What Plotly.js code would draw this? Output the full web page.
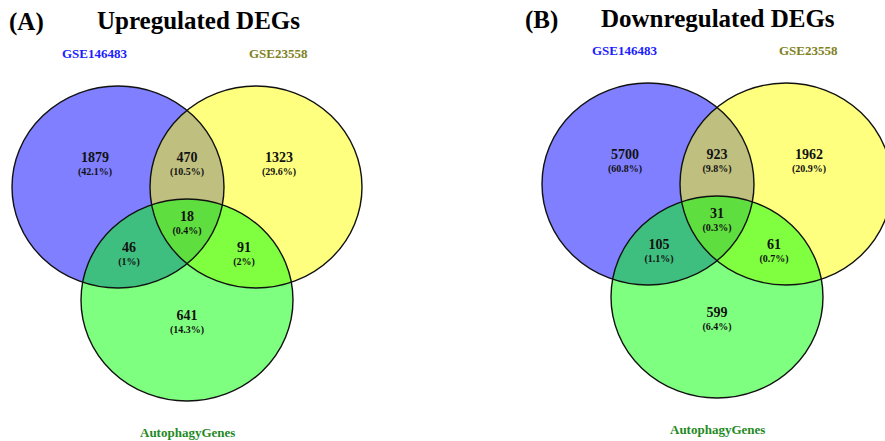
<!DOCTYPE html>
<html>
<head>
<meta charset="utf-8">
<script src="https://cdn.plot.ly/plotly-3.0.1.min.js"></script>
<style>
  html, body { margin: 0; padding: 0; background: #ffffff; }
  #chart { width: 885px; height: 441px; }
</style>
</head>
<body>
<div id="chart"></div>
<script>
// Set names and region counts (order: A only, A∩B, B only, A∩B∩C, A∩C, B∩C, C only)
const setNames = ["GSE146483", "GSE23558", "AutophagyGenes"];
const regionKeys = ["A", "AB", "B", "ABC", "AC", "BC", "C"];
const upCounts = [1879, 470, 1323, 18, 46, 91, 641];
const downCounts = [5700, 923, 1962, 31, 105, 61, 599];
const panelTags = ["(A)", "(B)"];
const panelTitles = ["Upregulated DEGs", "Downregulated DEGs"];

// Layout of one Venn panel, relative to the panel's centre point
const circleCenters = [[-69, -38], [69, -38], [0, 75]];
const RX = 106, RY = 101;
const regionPos = {A: [-92, -59], AB: [0, -59], B: [92, -59], ABC: [0, 0],
                   AC: [-58, 31], BC: [57, 31], C: [0, 99]};
const setLabelPos = [[-92, -172], [91, -172], [0, 207]];
const fills = ["rgba(0,0,255,0.5)", "rgba(255,255,0,0.5)", "rgba(0,255,0,0.5)"];
const labelColors = ["#1c1cff", "#80801c", "#1f8a1f"];
const panelOrigins = [[187, 225], [717, 222]];
const tagPos = [[26, 22], [541, 20]];
const titlePos = [[198, 20], [718, 18]];

const FONT = "Liberation Serif, Times New Roman, serif";

function pct(v, total) {
  return "(" + String(Math.round(v * 1000 / total) / 10) + "%)";
}

const traces = [];
const shapes = [];
const annotations = [];

[upCounts, downCounts].forEach((counts, p) => {
  const [ox, oy] = panelOrigins[p];
  const total = counts.reduce((a, b) => a + b, 0);

  // filled circles first, then the outlines on top
  circleCenters.forEach(([cx, cy], i) => {
    shapes.push({type: "circle", xref: "x", yref: "y", layer: "below",
      x0: ox + cx - RX, x1: ox + cx + RX, y0: oy + cy - RY, y1: oy + cy + RY,
      fillcolor: fills[i], line: {width: 0}});
  });
  circleCenters.forEach(([cx, cy]) => {
    shapes.push({type: "circle", xref: "x", yref: "y", layer: "below",
      x0: ox + cx - RX, x1: ox + cx + RX, y0: oy + cy - RY, y1: oy + cy + RY,
      fillcolor: "rgba(0,0,0,0)", line: {color: "#111111", width: 1.4}});
  });

  // count on the first line, share of the total underneath
  traces.push({
    type: "scatter", mode: "text", cliponaxis: false, hoverinfo: "skip",
    x: regionKeys.map(k => ox + regionPos[k][0]),
    y: regionKeys.map(k => oy + regionPos[k][1]),
    text: counts.map(v => "<span style='font-size:14px'>" + v + "</span><br>" + pct(v, total)),
    textfont: {family: FONT, size: 10, color: "#111111", weight: 700}
  });

  setNames.forEach((name, i) => {
    annotations.push({xref: "x", yref: "y", x: ox + setLabelPos[i][0], y: oy + setLabelPos[i][1],
      text: "<b>" + name + "</b>", showarrow: false,
      font: {family: FONT, size: 13, color: labelColors[i]}});
  });

  annotations.push({xref: "x", yref: "y", x: tagPos[p][0], y: tagPos[p][1],
    text: "<b>" + panelTags[p] + "</b>", showarrow: false,
    font: {family: FONT, size: 25, color: "#000000"}});
  annotations.push({xref: "x", yref: "y", x: titlePos[p][0], y: titlePos[p][1],
    text: "<b>" + panelTitles[p] + "</b>", showarrow: false,
    font: {family: FONT, size: 25, color: "#000000"}});
});

const layout = {
  width: 885, height: 441,
  margin: {l: 0, r: 0, t: 0, b: 0},
  paper_bgcolor: "#ffffff", plot_bgcolor: "#ffffff",
  showlegend: false,
  xaxis: {range: [0, 885], visible: false, fixedrange: true},
  yaxis: {range: [441, 0], visible: false, fixedrange: true},
  shapes: shapes,
  annotations: annotations
};

Plotly.newPlot("chart", traces, layout, {staticPlot: true, displayModeBar: false});
</script>
</body>
</html>
